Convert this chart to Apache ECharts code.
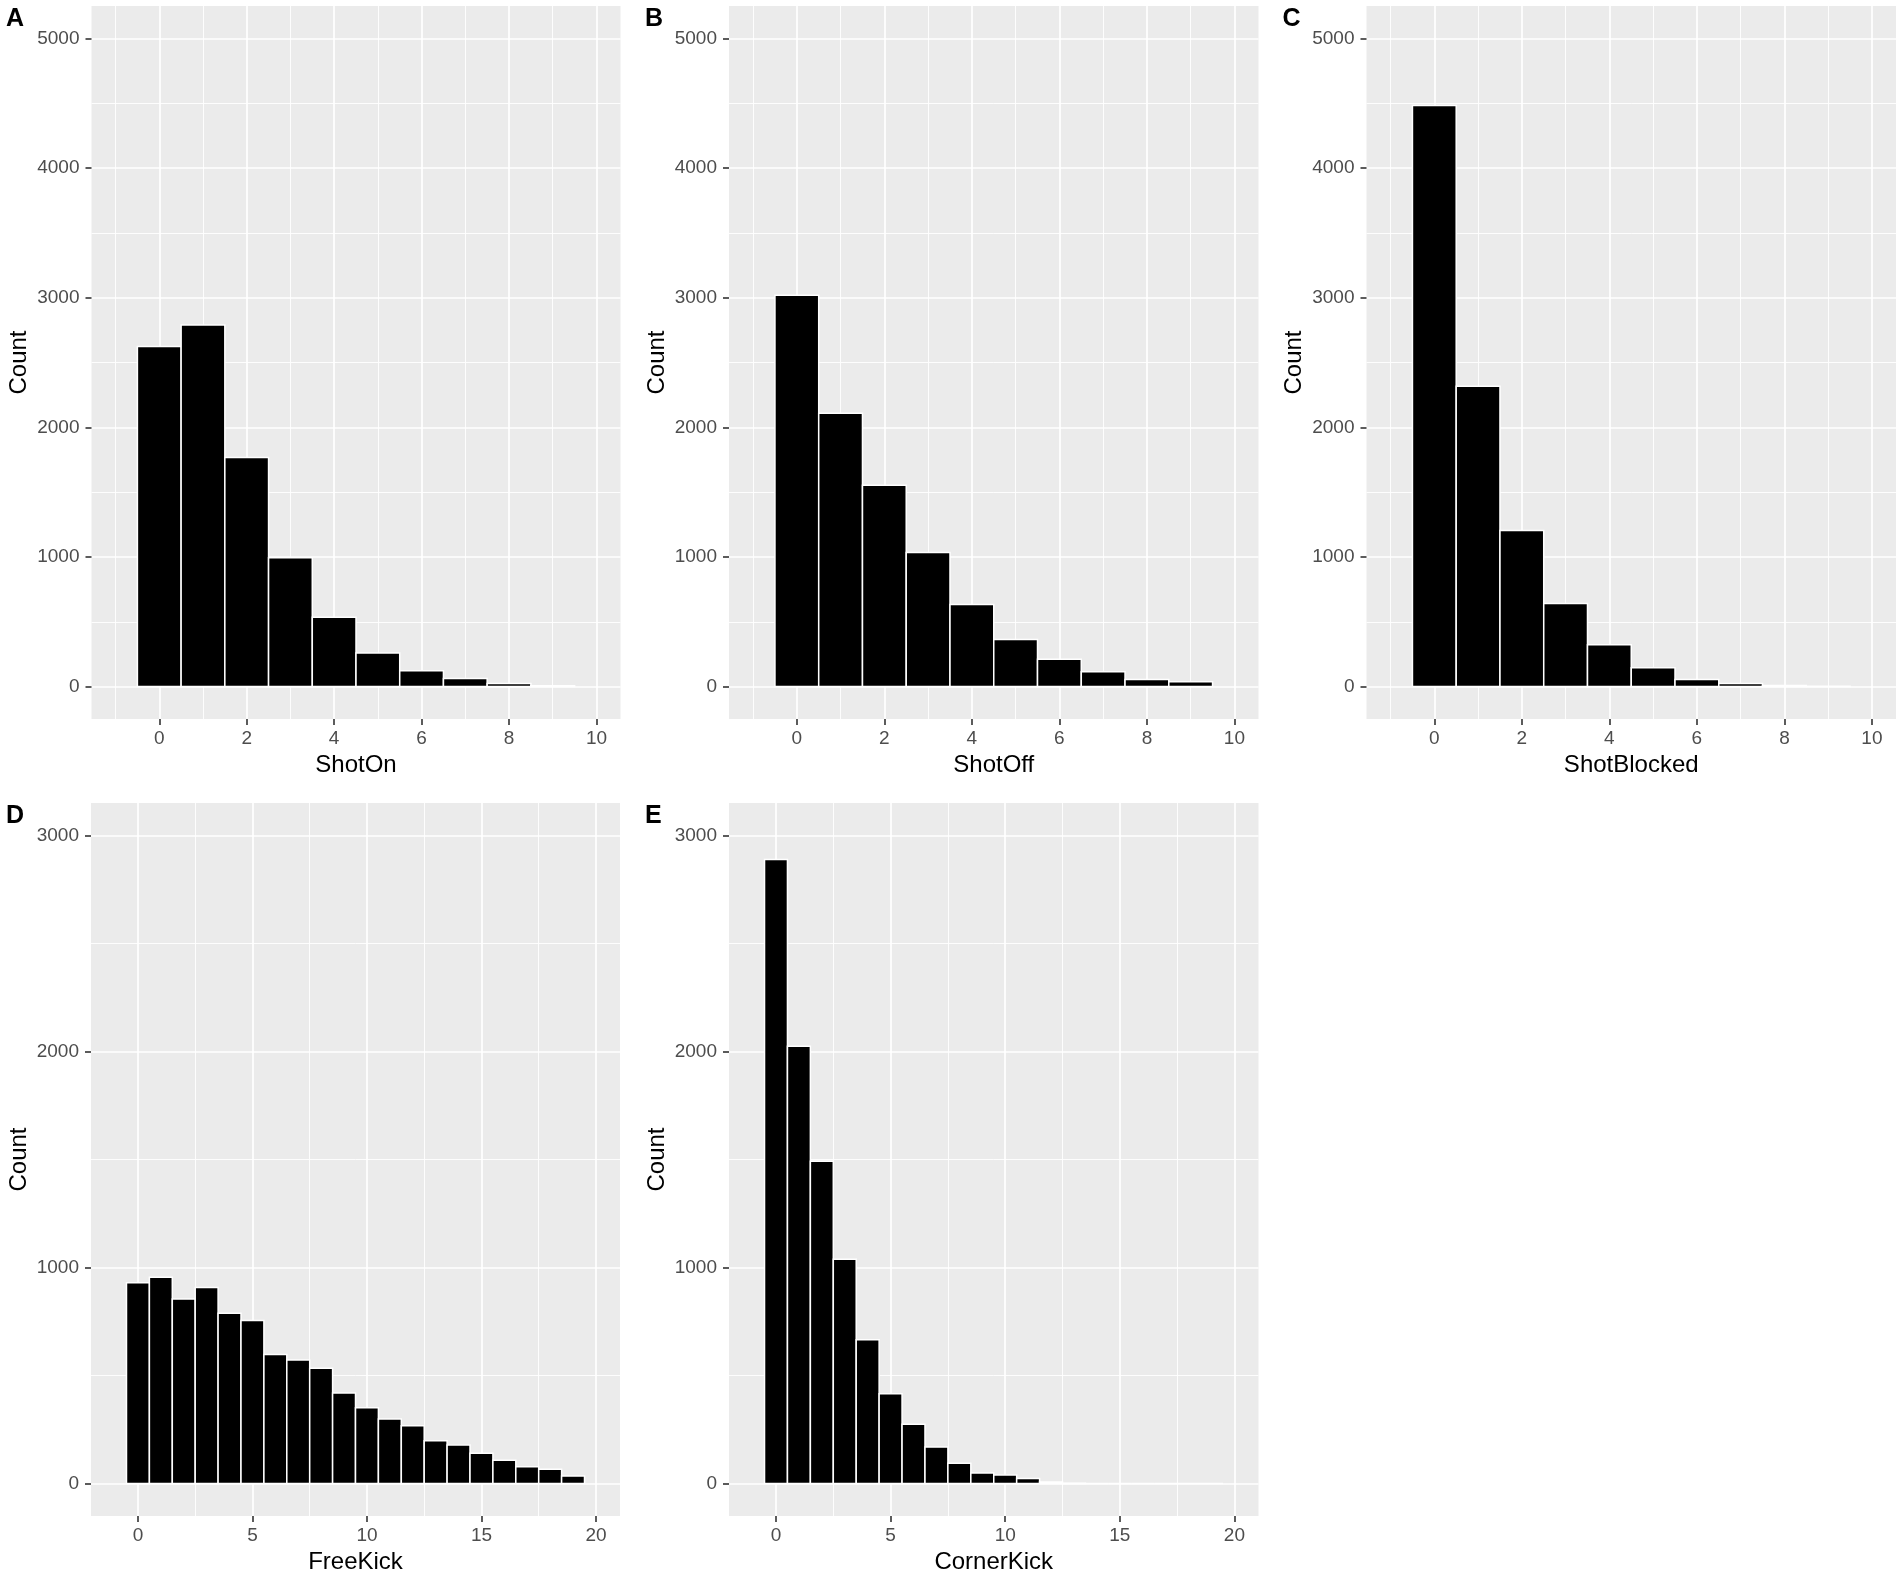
<!DOCTYPE html>
<html>
<head>
<meta charset="utf-8">
<title>Match statistics histograms</title>
<script src="https://cdn.jsdelivr.net/npm/echarts@6/dist/echarts.min.js"></script>
<style>
  html, body { margin: 0; padding: 0; background: #fff; }
  #main { width: 1902px; height: 1577px; }
</style>
</head>
<body>
<div id="main"></div>
<script>
// bin centres (integer counts per match)
const shotBins = [0, 1, 2, 3, 4, 5, 6, 7, 8, 9];
const kickBins = [0, 1, 2, 3, 4, 5, 6, 7, 8, 9, 10, 11, 12, 13, 14, 15, 16, 17, 18, 19];

// counts
const shotOn = [2624, 2789, 1767, 994, 534, 259, 122, 63, 24, 6];
const shotOff = [3018, 2109, 1553, 1035, 633, 364, 211, 115, 54, 38];
const shotBlocked = [4482, 2316, 1204, 640, 322, 146, 54, 23, 8, 3];
const freeKick = [929, 955, 854, 908, 788, 755, 598, 572, 534, 419, 351, 299, 268, 198, 179, 141, 108, 78, 66, 35];
const cornerKick = [2889, 2024, 1492, 1038, 666, 416, 275, 169, 94, 49, 40, 24, 7, 2, 0, 0, 0, 0, 0, 0];

// tick labels and grid breaks
const shotTicks = [0, 2, 4, 6, 8, 10];
const shotMinor = [-1, 1, 3, 5, 7, 9];
const kickTicks = [0, 5, 10, 15, 20];
const kickMinor = [2.5, 7.5, 12.5, 17.5];
const countTicksTop = [0, 1000, 2000, 3000, 4000, 5000];
const countMinorTop = [500, 1500, 2500, 3500, 4500];
const countTicksBottom = [0, 1000, 2000, 3000];
const countMinorBottom = [500, 1500, 2500];

const panelLetters = ["A", "B", "C", "D", "E"];
const panelNames = ["ShotOn", "ShotOff", "ShotBlocked", "FreeKick", "CornerKick"];

const FONT = "'Liberation Sans', Arial, sans-serif";

// one entry per panel: grid box, axis ranges, data
const panels = [
  { grid: [91.5, 6, 529, 713], bins: shotBins, counts: shotOn, x: [-1.55, 10.55], y: [-250, 5250],
    xt: shotTicks, xm: shotMinor, yt: countTicksTop, ym: countMinorTop },
  { grid: [729, 6, 529.5, 713], bins: shotBins, counts: shotOff, x: [-1.55, 10.55], y: [-250, 5250],
    xt: shotTicks, xm: shotMinor, yt: countTicksTop, ym: countMinorTop },
  { grid: [1366.5, 6, 529.5, 713], bins: shotBins, counts: shotBlocked, x: [-1.55, 10.55], y: [-250, 5250],
    xt: shotTicks, xm: shotMinor, yt: countTicksTop, ym: countMinorTop },
  { grid: [91, 803, 529, 713], bins: kickBins, counts: freeKick, x: [-2.05, 21.05], y: [-150, 3150],
    xt: kickTicks, xm: kickMinor, yt: countTicksBottom, ym: countMinorBottom },
  { grid: [729, 803, 529.5, 713], bins: kickBins, counts: cornerKick, x: [-2.05, 21.05], y: [-150, 3150],
    xt: kickTicks, xm: kickMinor, yt: countTicksBottom, ym: countMinorBottom },
];

const chart = echarts.init(document.getElementById("main"), null, { renderer: "canvas" });

// histogram bar: bin of width 1 centred on the value
function renderBin(params, api) {
  const x = api.value(0);
  const topLeft = api.coord([x - 0.5, api.value(1)]);
  const bottomRight = api.coord([x + 0.5, 0]);
  return {
    type: "rect",
    shape: {
      x: topLeft[0],
      y: topLeft[1],
      width: bottomRight[0] - topLeft[0],
      height: bottomRight[1] - topLeft[1],
    },
    style: { fill: "#000000", stroke: "#ffffff", lineWidth: 1.5 },
  };
}

const grids = [];
const xMajor = [];
const xMinorAxes = [];
const yMajor = [];
const yMinorAxes = [];
const series = [];
const titles = [];

panels.forEach((p, i) => {
  grids.push({
    left: p.grid[0],
    top: p.grid[1],
    width: p.grid[2],
    height: p.grid[3],
    show: true,
    backgroundColor: "#ebebeb",
    borderWidth: 0,
    containLabel: false,
    outerBoundsMode: "none",
  });

  xMajor.push({
    type: "value",
    gridIndex: i,
    position: "bottom",
    min: p.x[0],
    max: p.x[1],
    name: panelNames[i],
    nameLocation: "middle",
    nameGap: 34,
    nameTextStyle: { color: "#000000", fontSize: 24, fontFamily: FONT },
    axisLine: { show: false, onZero: false },
    axisTick: { show: true, length: 6, customValues: p.xt, lineStyle: { color: "#333333", width: 1.6 } },
    axisLabel: {
      customValues: p.xt,
      color: "#4d4d4d",
      fontSize: 19,
      fontFamily: FONT,
      margin: 10,
      formatter: (v) => String(v),
    },
    splitLine: { show: true, lineStyle: { color: "#ffffff", width: 1.7 } },
  });

  xMinorAxes.push({
    type: "value",
    gridIndex: i,
    position: "top",
    min: p.x[0],
    max: p.x[1],
    axisLine: { show: false, onZero: false },
    axisTick: { show: false, customValues: p.xm },
    axisLabel: { show: false, customValues: p.xm },
    splitLine: { show: true, lineStyle: { color: "#ffffff", width: 0.9 } },
  });

  yMajor.push({
    type: "value",
    gridIndex: i,
    position: "left",
    min: p.y[0],
    max: p.y[1],
    name: "Count",
    nameLocation: "middle",
    nameGap: 60,
    nameTextStyle: { color: "#000000", fontSize: 24, fontFamily: FONT },
    axisLine: { show: false, onZero: false },
    axisTick: { show: true, length: 6, customValues: p.yt, lineStyle: { color: "#333333", width: 1.6 } },
    axisLabel: {
      customValues: p.yt,
      color: "#4d4d4d",
      fontSize: 19,
      fontFamily: FONT,
      margin: 12,
      formatter: (v) => String(v),
    },
    splitLine: { show: true, lineStyle: { color: "#ffffff", width: 1.7 } },
  });

  yMinorAxes.push({
    type: "value",
    gridIndex: i,
    position: "right",
    min: p.y[0],
    max: p.y[1],
    axisLine: { show: false, onZero: false },
    axisTick: { show: false, customValues: p.ym },
    axisLabel: { show: false, customValues: p.ym },
    splitLine: { show: true, lineStyle: { color: "#ffffff", width: 0.9 } },
  });

  series.push({
    type: "custom",
    name: panelNames[i],
    xAxisIndex: i,
    yAxisIndex: i,
    renderItem: renderBin,
    encode: { x: 0, y: 1 },
    data: p.bins.map((b, k) => [b, p.counts[k]]),
    z: 3,
  });

  // panel letter in the top-left corner
  titles.push({
    text: panelLetters[i],
    left: i === 0 || i === 3 ? 6 : p.grid[0] - 84,
    top: p.grid[1] + 1,
    padding: 0,
    textStyle: { color: "#000000", fontSize: 25, fontWeight: "bold", fontFamily: FONT },
  });
});

const option = {
  animation: false,
  backgroundColor: "#ffffff",
  title: titles,
  grid: grids,
  xAxis: xMajor.concat(xMinorAxes),
  yAxis: yMajor.concat(yMinorAxes),
  series: series,
};

chart.setOption(option);
</script>
</body>
</html>
